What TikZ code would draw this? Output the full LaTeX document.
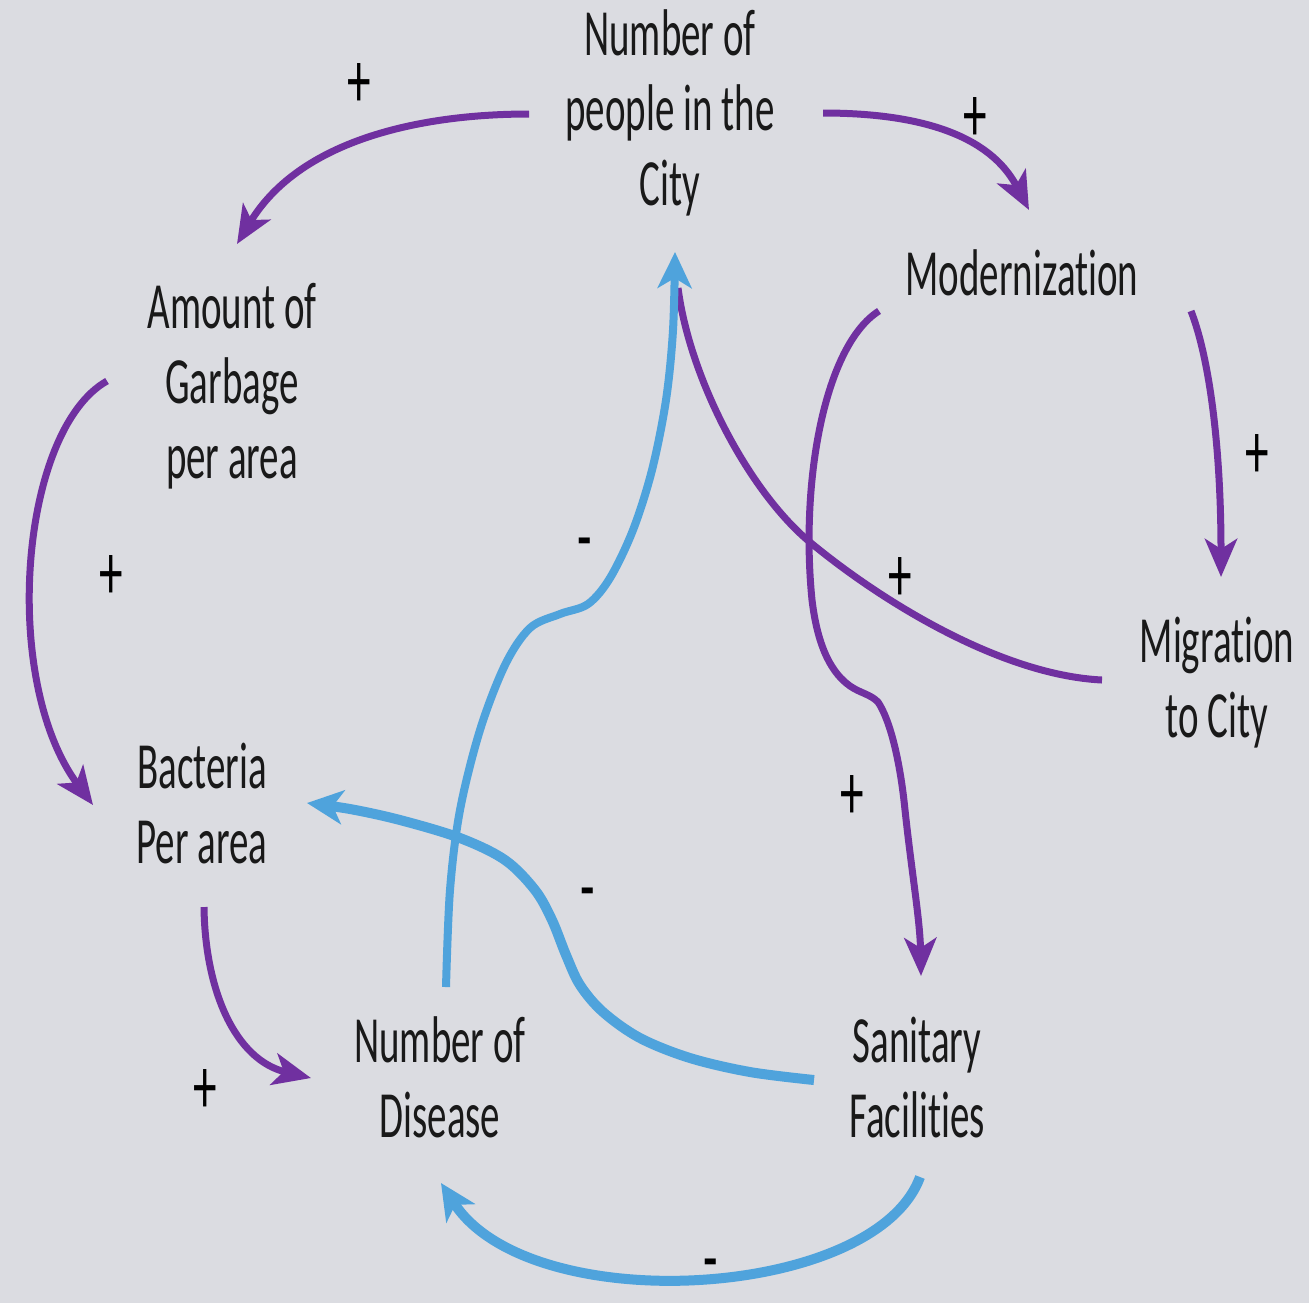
\documentclass[tikz,border=0pt]{standalone}
\usepackage{fontspec}
\setmainfont{Carlito}[FakeStretch=0.59, Ligatures=NoCommon]
\usetikzlibrary{arrows.meta}
\definecolor{bgcol}{RGB}{219,220,225}
\definecolor{loopviolet}{RGB}{112,48,160}
\definecolor{loopblue}{RGB}{79,163,220}
\definecolor{inkcol}{RGB}{25,25,25}

\begin{document}
\begin{tikzpicture}[x=0.5pt,y=-0.5pt,
  var/.style={anchor=north, inner sep=0pt, align=center, text=inkcol,
              font=\fontsize{33}{37.5}\selectfont},
  polarity/.style={anchor=base, inner sep=0pt, text=black,
               font=\fontsize{40}{44}\selectfont},
  plusline/.style={draw=loopviolet, line width=3.5pt},
  plusarrow/.style={plusline, -{Stealth[length=19pt,width=16pt,inset=5pt]}},
  minusline/.style={draw=loopblue, line width=5pt},
  minusarrow/.style={minusline, -{Stealth[length=18pt,width=17pt,inset=5pt]}},
]
% background and page frame
\path[use as bounding box, fill=bgcol] (0,0) rectangle (1309,1303);

% variables of the causal loop diagram
\node[var] (people)    at (670,2.5)    {\strut Number of\\\strut people in the\\\strut City};
\node[var] (modern)    at (1022,242.5) {\strut Modernization};
\node[var] (garbage)   at (232,275.5)  {\strut Amount of\\\strut Garbage\\\strut per area};
\node[var] (migration) at (1217,609.5) {\strut Migration\\\strut to City};
\node[var] (bacteria)  at (202,735.5)  {\strut Bacteria\\\strut Per area};
\node[var] (disease)   at (440,1009.5) {\strut Number of\\\strut Disease};
\node[var] (sanitary)  at (917,1009.5) {\strut Sanitary\\\strut Facilities};

% connector end points
\coordinate (people-l)    at (529,114);
\coordinate (people-r)    at (823,113);
\coordinate (people-in)   at (675,252);
\coordinate (people-in2)  at (678,288);
\coordinate (modern-in)   at (1029,210);
\coordinate (modern-l)    at (879,311);
\coordinate (modern-r)    at (1191,311);
\coordinate (garbage-in)  at (237,244);
\coordinate (garbage-l)   at (107,381);
\coordinate (migration-in) at (1221,577);
\coordinate (migration-l) at (1102,680);
\coordinate (bacteria-in) at (93,805);
\coordinate (bacteria-r)  at (307,803);
\coordinate (bacteria-b)  at (204,907);
\coordinate (disease-t)   at (446,987);
\coordinate (disease-in)  at (311,1078);
\coordinate (disease-b)   at (441,1183);
\coordinate (sanitary-in) at (921,976);
\coordinate (sanitary-l)  at (814,1080);
\coordinate (sanitary-b)  at (920,1177);

% positive links
\draw[plusarrow] (people-l) .. controls (420,114) and (300,140) .. (garbage-in);
\draw[plusarrow] (people-r) .. controls (920,113) and (990,135) .. (modern-in);
\draw[plusarrow] (modern-r) .. controls (1210,360) and (1221,450) .. (migration-in);
\draw[plusline] (migration-l) .. controls (1000,675) and (880,600) .. (811,543)
               .. controls (750,493) and (690,380) .. (people-in2);
\draw[plusarrow] (modern-l) .. controls (825,345) and (800,480) .. (812,600)
           .. controls (818,650) and (833,674) .. (850,686)
           .. controls (860,693) and (870,694) .. (878,702)
           .. controls (890,720) and (900,760) .. (905,810)
           .. controls (912,875) and (920,920) .. (sanitary-in);
\draw[plusarrow] (garbage-l) .. controls (20,430) and (0,680) .. (bacteria-in);
\draw[plusarrow] (bacteria-b) .. controls (205,990) and (235,1060) .. (disease-in);

% negative links
\draw[minusarrow] plot[smooth, tension=0.55] coordinates {
  (sanitary-l) (750,1072) (690,1058) (640,1038) (603,1012) (580,985)
  (566,955) (552,920) (535,890) (505,860) (460,838) (400,820) (350,809)
  (bacteria-r)};
\draw[minusarrow, line width=4pt] plot[smooth, tension=0.55] coordinates {
  (disease-t) (450,890) (460,810) (480,730) (505,665) (530,628) (560,614)
  (588,604) (610,578) (633,530) (652,470) (666,400) (673,330) (people-in)};
\draw[minusarrow] (sanitary-b) .. controls (875,1300) and (530,1320) .. (disease-b);

% link polarities
\node[polarity] (s-pg) at (359,107)  {+};
\node[polarity] (s-pm) at (975,141)  {+};
\node[polarity] (s-mm) at (1257,478) {+};
\node[polarity] (s-mp) at (900,601)  {+};
\node[polarity] (s-gb) at (111,599)  {+};
\node[polarity] (s-dp) at (585,563)  {-};
\node[polarity] (s-ms) at (852,819)  {+};
\node[polarity] (s-sb) at (588,913)  {-};
\node[polarity] (s-bd) at (205,1113) {+};
\node[polarity] (s-sd) at (711,1284) {-};
\end{tikzpicture}
\end{document}
